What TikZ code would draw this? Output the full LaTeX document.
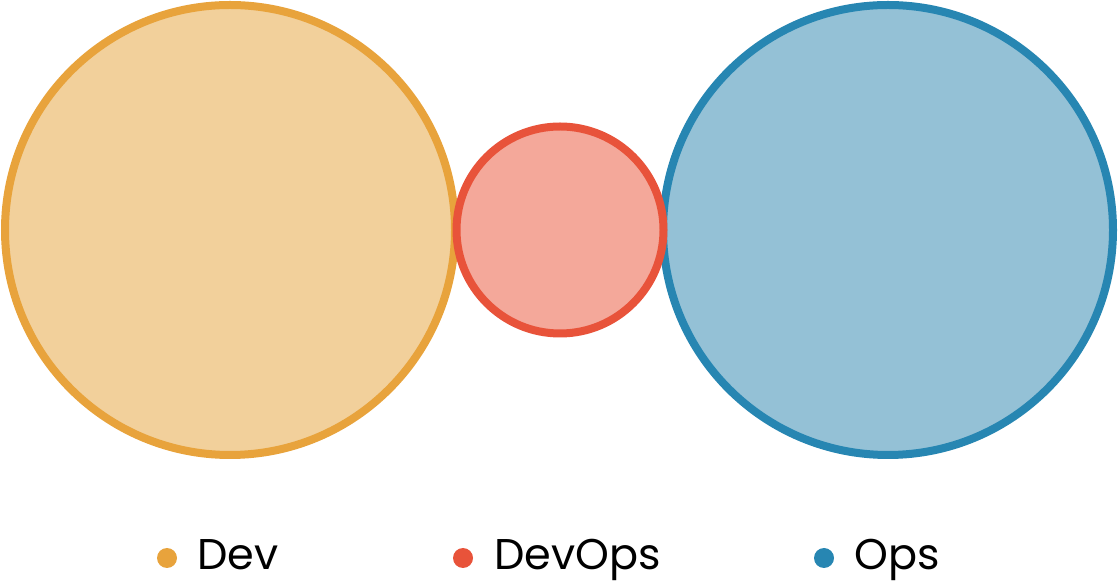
\documentclass[tikz,border=0pt]{standalone}
\usepackage{fontspec}
\setmainfont{Poppins}
\definecolor{devline}{HTML}{E8A33C}
\definecolor{devfill}{HTML}{F2D09B}
\definecolor{dopline}{HTML}{E8533A}
\definecolor{dopfill}{HTML}{F4A89A}
\definecolor{opsline}{HTML}{2786B2}
\definecolor{opsfill}{HTML}{94C1D6}
\begin{document}
\begin{tikzpicture}[x=1pt,y=1pt,
  ring/.style={circle,line width=8pt,inner sep=0pt,outer sep=0pt},
  dot/.style={circle,inner sep=0pt,minimum size=20pt},
  lab/.style={anchor=base west,inner sep=0pt,font=\fontsize{43}{43}\selectfont}]
\useasboundingbox (0,0) rectangle (1118,583);
\node[ring,draw=devline,fill=devfill,minimum size=450pt] (dev) at (230,353) {};
\node[ring,draw=opsline,fill=opsfill,minimum size=450pt] (ops) at (888,353) {};
\node[ring,draw=dopline,fill=dopfill,minimum size=207pt] (devops) at (560,353) {};
\node[dot,fill=devline] (d1) at (167,25) {};
\node[lab] (t1) at (197,13) {Dev};
\node[dot,fill=dopline] (d2) at (463,25) {};
\node[lab] (t2) at (494,13) {DevOps};
\node[dot,fill=opsline] (d3) at (824,25) {};
\node[lab] (t3) at (854,13) {Ops};
\end{tikzpicture}
\end{document}
